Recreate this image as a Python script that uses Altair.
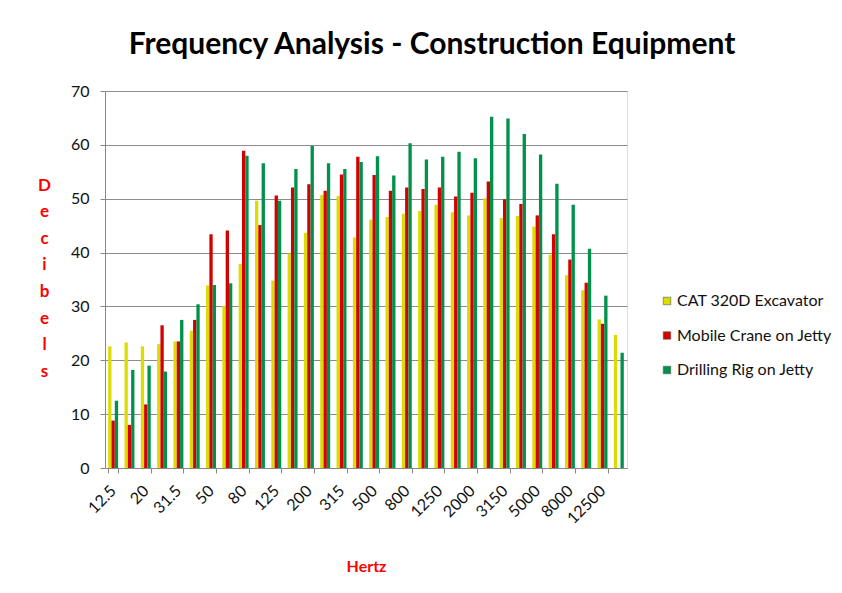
import altair as alt
import pandas as pd

freqs = ["12.5", "16", "20", "25", "31.5", "40", "50", "63", "80", "100", "125", "160",
         "200", "250", "315", "400", "500", "630", "800", "1000", "1250", "1600", "2000",
         "2500", "3150", "4000", "5000", "6300", "8000", "10000", "12500", "16000"]
series_names = ["CAT 320D Excavator", "Mobile Crane  on Jetty", "Drilling Rig on Jetty"]
cat_excavator = [22.6, 23.3, 22.6, 23.0, 23.5, 25.5, 33.9, 30.1, 37.9, 49.6, 34.8, 39.8,
                 43.7, 50.7, 50.5, 42.8, 46.1, 46.6, 47.2, 47.7, 48.9, 47.5, 46.9,
                 50.1, 46.4, 46.8, 44.8, 39.6, 35.8, 33.0, 27.6, 24.7]
mobile_crane = [8.8, 8.0, 11.8, 26.5, 23.5, 27.5, 43.4, 44.1, 58.9, 45.1, 50.6, 52.1,
                52.7, 51.5, 54.5, 57.8, 54.4, 51.5, 52.1, 51.8, 52.1, 50.4, 51.1,
                53.2, 49.9, 49.0, 46.9, 43.4, 38.7, 34.4, 26.8, None]
drilling_rig = [12.5, 18.2, 19.0, 17.9, 27.5, 30.4, 34.0, 34.3, 58.0, 56.6, 49.6, 55.5,
                59.8, 56.6, 55.5, 56.8, 57.9, 54.3, 60.3, 57.3, 57.8, 58.7, 57.5,
                65.2, 64.9, 62.0, 58.2, 52.8, 48.9, 40.7, 32.0, 21.4]
series_colors = ["#DCDC00", "#D40000", "#00924A"]
y_ticks = [0, 10, 20, 30, 40, 50, 60, 70]
x_label_values = freqs[::2]

rows = []
for name, vals in zip(series_names, [cat_excavator, mobile_crane, drilling_rig]):
    for f, v in zip(freqs, vals):
        if v is not None:
            rows.append({"Hertz": f, "Series": name, "Decibels": v})
df = pd.DataFrame(rows)

FONT = "Lato"

chart = alt.Chart(df).mark_bar().encode(
    x=alt.X("Hertz:N", sort=freqs,
            scale=alt.Scale(paddingInner=0.39, paddingOuter=0.195),
            axis=alt.Axis(values=x_label_values, labelAngle=-45, labelAlign="right",
                          labelBaseline="middle", labelFontSize=16, labelFont=FONT,
                          labelColor="#111", labelPadding=15, tickBand="extent",
                          tickColor="#888", tickSize=5, domainColor="#888",
                          title="Hertz", titleColor="#FF0000", titleFont=FONT,
                          titleFontSize=16, titleFontWeight="bold",
                          titleY=98, titleBaseline="middle", grid=False)),
    xOffset=alt.XOffset("Series:N", sort=series_names,
                        scale=alt.Scale(paddingInner=0, paddingOuter=0)),
    y=alt.Y("Decibels:Q", scale=alt.Scale(domain=[0, 70], nice=False),
            axis=alt.Axis(values=y_ticks, labelFontSize=16, labelFont=FONT,
                          labelColor="#111", labelPadding=11, tickColor="#888",
                          tickSize=5, domainColor="#888", gridColor="#8c8c8c",
                          title=list("Decibels"), titleAngle=0, titleColor="#FF0000",
                          titleFont=FONT, titleFontSize=17, titleFontWeight="bold",
                          titleLineHeight=26.6, titleX=-61, titleY=94,
                          titleAlign="center", titleBaseline="middle")),
    color=alt.Color("Series:N", sort=series_names,
                    scale=alt.Scale(domain=series_names, range=series_colors),
                    legend=alt.Legend(title=None, orient="none", legendX=554, legendY=202,
                                      symbolType="square", symbolSize=56,
                                      symbolStrokeColor="#555", symbolStrokeWidth=0.6,
                                      labelFont=FONT, labelFontSize=16, labelColor="#111",
                                      labelOffset=2, rowPadding=18.5, padding=0)),
).properties(
    width=522, height=377,
    autosize="none",
    padding={"left": 97, "top": 83, "right": 207, "bottom": 110},
    title=alt.TitleParams("Frequency Analysis - Construction Equipment", font=FONT,
                          fontSize=30, fontWeight="bold", color="#000",
                          anchor="middle", dx=66, dy=27, offset=26, baseline="alphabetic"),
).configure_view(stroke=None).configure(background="white")

chart.save("out.html", embed_options={"renderer": "svg", "actions": False})
